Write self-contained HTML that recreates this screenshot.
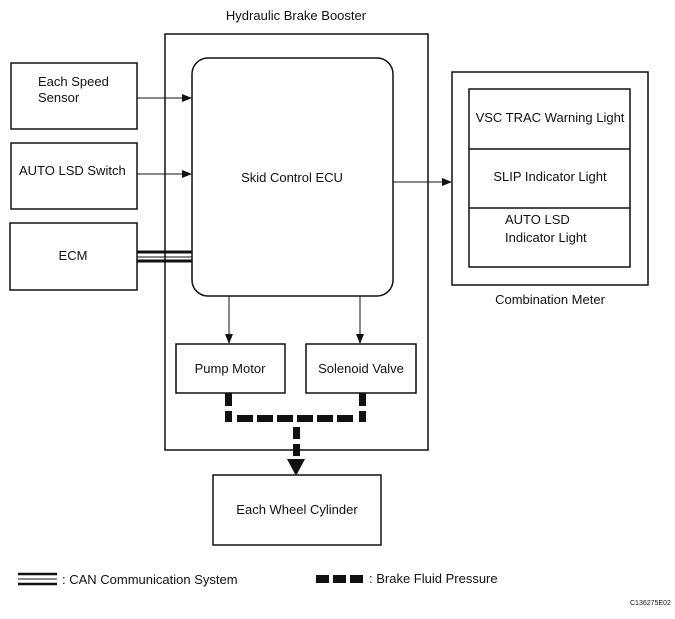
<!DOCTYPE html>
<html><head><style>
body{margin:0;background:#fff}
svg text{font-family:"Liberation Sans",sans-serif;font-size:13px;fill:#111}
</style></head><body>
<svg width="675" height="614" viewBox="0 0 675 614" xmlns="http://www.w3.org/2000/svg">
<defs><marker id="a" markerWidth="10" markerHeight="8" refX="9" refY="4" orient="auto" markerUnits="userSpaceOnUse"><path d="M0,0 L10,4 L0,8z" fill="#111"/></marker></defs>
<g fill="none" stroke="#111" stroke-width="1.5">
<rect x="165" y="34" width="263" height="416"/>
<rect x="192" y="58" width="201" height="238" rx="16"/>
<rect x="11" y="63" width="126" height="66"/>
<rect x="11" y="143" width="126" height="66"/>
<rect x="10" y="223" width="127" height="67"/>
<rect x="452" y="72" width="196" height="213"/>
<rect x="469" y="89" width="161" height="178"/>
<line x1="469" y1="149" x2="630" y2="149"/>
<line x1="469" y1="208" x2="630" y2="208"/>
<rect x="176" y="344" width="109" height="49"/>
<rect x="306" y="344" width="110" height="49"/>
<rect x="213" y="475" width="168" height="70"/>
<line x1="137" y1="98" x2="191" y2="98" stroke-width="1" marker-end="url(#a)"/>
<line x1="137" y1="174" x2="191" y2="174" stroke-width="1" marker-end="url(#a)"/>
<line x1="393" y1="182" x2="451" y2="182" stroke-width="1" marker-end="url(#a)"/>
<line x1="229" y1="296" x2="229" y2="343" stroke-width="1" marker-end="url(#a)"/>
<line x1="360" y1="296" x2="360" y2="343" stroke-width="1" marker-end="url(#a)"/>
</g>
<g stroke="#111">
<line x1="137" y1="252" x2="192" y2="252" stroke-width="3"/>
<line x1="137" y1="257" x2="192" y2="257" stroke-width="1"/>
<line x1="137" y1="261" x2="192" y2="261" stroke-width="3"/>
<line x1="18" y1="574" x2="57" y2="574" stroke-width="2.5"/>
<line x1="18" y1="579" x2="57" y2="579" stroke-width="1"/>
<line x1="18" y1="584" x2="57" y2="584" stroke-width="2.5"/>
</g>
<g fill="#111">
<rect x="225" y="393" width="7" height="13"/>
<rect x="359" y="393" width="7" height="13"/>
<rect x="225" y="411" width="7" height="11"/>
<rect x="359" y="411" width="7" height="11"/>
<rect x="237" y="415" width="16" height="7"/>
<rect x="257" y="415" width="16" height="7"/>
<rect x="277" y="415" width="16" height="7"/>
<rect x="297" y="415" width="16" height="7"/>
<rect x="317" y="415" width="16" height="7"/>
<rect x="337" y="415" width="16" height="7"/>
<rect x="293" y="427" width="7" height="12"/>
<rect x="293" y="444" width="7" height="12"/>
<path d="M287,459 L305,459 L296,476z"/>
<rect x="316" y="575" width="13" height="8"/>
<rect x="333" y="575" width="13" height="8"/>
<rect x="350" y="575" width="13" height="8"/>
</g>
<text x="296" y="20" text-anchor="middle">Hydraulic Brake Booster</text>
<text x="38" y="86">Each Speed</text>
<text x="38" y="102">Sensor</text>
<text x="19" y="175">AUTO LSD Switch</text>
<text x="73" y="260" text-anchor="middle">ECM</text>
<text x="292" y="182" text-anchor="middle">Skid Control ECU</text>
<text x="550" y="122" text-anchor="middle">VSC TRAC Warning Light</text>
<text x="550" y="181" text-anchor="middle">SLIP Indicator Light</text>
<text x="505" y="224">AUTO LSD</text>
<text x="505" y="242">Indicator Light</text>
<text x="550" y="304" text-anchor="middle">Combination Meter</text>
<text x="230" y="373" text-anchor="middle">Pump Motor</text>
<text x="361" y="373" text-anchor="middle">Solenoid Valve</text>
<text x="297" y="514" text-anchor="middle">Each Wheel Cylinder</text>
<text x="62" y="584">: CAN Communication System</text>
<text x="369" y="583">: Brake Fluid Pressure</text>
<text x="630" y="605" style="font-size:7px">C136275E02</text>
</svg>
</body></html>
